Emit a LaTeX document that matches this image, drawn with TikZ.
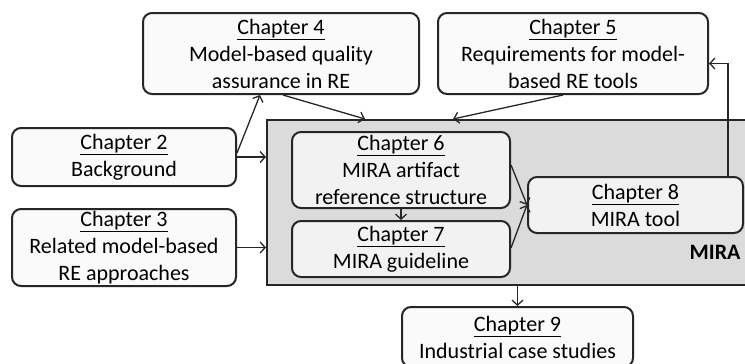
\documentclass[tikz,border=0pt]{standalone}
\usepackage{fontspec}
\setmainfont{Carlito}
\usetikzlibrary{arrows.meta,calc}
\begin{document}
\begin{tikzpicture}[x=1pt,y=-1pt,
  chapbox/.style={draw=black!85, line width=2pt, rounded corners=9pt,
    fill=black!2, align=center, inner sep=0pt,
    font=\fontsize{22}{27}\selectfont},
  innerbox/.style={chapbox, fill=black!5},
  link/.style={line width=1.3pt, draw=black!85,
    -{Straight Barb[length=5pt,width=11pt,line width=1.3pt]}}]
\useasboundingbox (0,0) rectangle (745,364);
% MIRA group frame
\node[draw=black!85, line width=2pt, fill=black!14, minimum width=493pt,
  minimum height=165pt, inner sep=0pt] (mira) at (513.5,202.5) {};
\node[anchor=east, font=\fontsize{22}{27}\selectfont\bfseries] (miralbl) at (744,252) {MIRA};
% chapters
\node[chapbox, minimum width=276pt, minimum height=81pt] (ch4) at (281,53.5)
  {\underline{Chapter 4}\\Model-based quality\\assurance in RE};
\node[chapbox, minimum width=270pt, minimum height=81pt] (ch5) at (573,53.5)
  {\underline{Chapter 5}\\Requirements for model-\\based RE tools};
\node[chapbox, minimum width=224pt, minimum height=58pt] (ch2) at (124,157)
  {\underline{Chapter 2}\\Background};
\node[chapbox, minimum width=224pt, minimum height=77pt] (ch3) at (124,247.5)
  {\underline{Chapter 3}\\Related model-based\\RE approaches};
\node[innerbox, minimum width=218pt, minimum height=76pt] (ch6) at (401,170)
  {\underline{Chapter 6}\\MIRA artifact\\reference structure};
\node[innerbox, minimum width=218pt, minimum height=56pt] (ch7) at (401,249)
  {\underline{Chapter 7}\\MIRA guideline};
\node[innerbox, minimum width=215pt, minimum height=56pt] (ch8) at (635.5,205)
  {\underline{Chapter 8}\\MIRA tool};
\node[chapbox, minimum width=231pt, minimum height=60pt] (ch9) at (517.5,337)
  {\underline{Chapter 9}\\Industrial case studies};
% connectors
\draw[link] ($(ch2.east)+(0,-4)$) -- ($(ch4.south)+(-21,0)$);
\draw[link] (ch2.east) -- (ch2.east -| mira.west);
\draw[link] (ch3.east) -- (ch3.east -| mira.west);
\draw[link] ($(ch4.south)+(2,0)$) -- ($(mira.north)+(-148.5,0)$);
\draw[link] ($(ch5.south)+(-10,0)$) -- ($(mira.north)+(-60.5,0)$);
\draw[link] (ch6.south) -- (ch7.north);
\draw[link] ($(ch6.east)+(0,-5)$) -- (ch8.west);
\draw[link] ($(ch7.east)+(0,-1)$) -- (ch8.west);
\draw[link] ($(ch8.north east)+(-16,0)$) |- ($(ch5.east)+(0,10)$);
\draw[link] (mira.south -| ch9.north) -- (ch9.north);
\end{tikzpicture}
\end{document}
